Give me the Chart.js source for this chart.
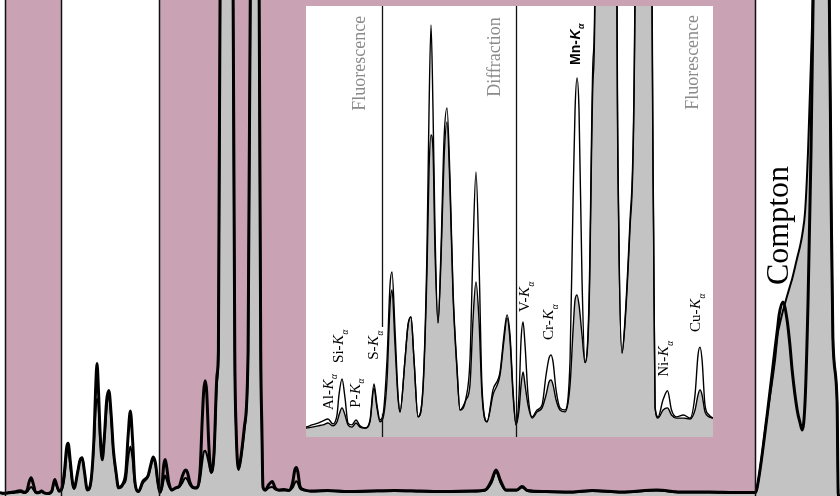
<!DOCTYPE html>
<html>
<head>
<meta charset="utf-8">
<script src="https://cdn.jsdelivr.net/npm/chart.js@4"></script>
<style>
  body { margin: 0; background: #fff; }
  #wrap { position: relative; width: 840px; height: 496px; overflow: hidden; }
  #main { position: absolute; left: 0; top: 0; }
  #inset { position: absolute; left: 306px; top: 6px; background: #fff; }
</style>
</head>
<body>
<div id="wrap">
  <canvas id="main" width="840" height="496"></canvas>
  <canvas id="inset" width="407" height="431"></canvas>
</div>
<script>
// Spectrum (energy in keV, intensity in counts)
const energy = [
  1.000, 1.087, 1.211, 1.317, 1.405, 1.493, 1.581, 1.652, 1.687, 1.740,
  1.793, 1.846, 1.916, 1.987, 2.057, 2.146, 2.234, 2.304, 2.357, 2.410,
  2.463, 2.534, 2.587, 2.622, 2.675, 2.728, 2.763, 2.851, 2.904, 2.957,
  3.010, 3.080, 3.169, 3.239, 3.275, 3.310, 3.345, 3.380, 3.433, 3.486,
  3.539, 3.592, 3.645, 3.698, 3.768, 3.821, 3.927, 3.997, 4.050, 4.103,
  4.156, 4.209, 4.297, 4.403, 4.527, 4.597, 4.650, 4.703, 4.756, 4.809,
  4.862, 4.898, 4.933, 4.968, 5.021, 5.092, 5.180, 5.268, 5.339, 5.392,
  5.426, 5.462, 5.515, 5.585, 5.673, 5.762, 5.815, 5.850, 5.885, 5.920,
  5.973, 6.026, 6.097, 6.167, 6.200, 6.240, 6.320, 6.400, 6.480, 6.550,
  6.590, 6.620, 6.679, 6.731, 6.820, 6.907, 6.960, 7.000, 7.060, 7.120,
  7.170, 7.208, 7.235, 7.261, 7.314, 7.402, 7.481, 7.551, 7.639, 7.763,
  7.878, 7.966, 8.019, 8.054, 8.090, 8.142, 8.213, 8.283, 8.400, 8.800,
  9.300, 9.800, 10.40, 11.00, 11.60, 12.20, 12.55, 12.70, 12.81, 12.92,
  13.05, 13.30, 13.43, 13.56, 14.00, 14.60, 15.10, 15.80, 16.64, 17.20,
  17.90, 18.50, 18.98, 19.02, 19.26, 19.45, 19.52, 19.55, 19.64, 19.74,
  19.81, 19.86, 19.98, 20.05, 20.10, 20.17, 20.24, 20.31, 20.36, 20.40,
  20.55, 20.70, 20.74, 20.79, 20.83, 20.93, 20.96, 21.00
];
// line-only spectrum (upper in the fluorescence/diffraction part)
const spectrumLine = [
  -15, -23, -16, -10, -3, 3, -13, 16, 81, 132,
  71, -10, -16, 0, -19, -26, 0, 116, 48, 0,
  16, 194, 435, 477, 290, 81, 26, 194, 306, 332,
  194, 10, 110, 548, 1000, 1274, 1000, 613, 313, 548,
  903, 1006, 774, 419, 171, 32, 71, 194, 548, 800,
  516, 106, -6, 97, 155, 274, 339, 274, 97, -16,
  81, 258, 316, 242, 81, 10, 32, 48, 145, 200,
  210, 187, 97, 39, 32, 194, 710, 1000, 1103, 1000,
  452, 185, 387, 1161, 1400, 5000, 18000, 30000, 18000, 5000,
  1400, 650, 216, 323, 645, 1400, 5000, 12000, 28000, 12000,
  5000, 1400, 645, 42, 10, 65, 94, 32, 10, 16,
  6, 81, 210, 235, 194, 48, 16, 6, 0, 5,
  -5, 0, 5, 0, -5, 0, 10, 100, 210, 100,
  10, 10, 45, 5, -5, -10, 5, -10, 10, -10,
  -10, -15, -15, 20, 740, 1410, 1650, 1760, 1890, 1710,
  1450, 1210, 810, 680, 610, 910, 1910, 3400, 4910, 6000,
  20000, 6000, 5200, 2910, 1540, 900, -50, -50
];
// filled spectrum
const spectrumFilled = [
  -20, -26, -23, -19, -16, -10, -19, -6, 16, 39,
  16, -16, -23, -10, -23, -26, -6, 103, 39, -6,
  6, 129, 371, 419, 242, 71, 26, 194, 306, 332,
  194, 10, 100, 484, 806, 919, 871, 548, 313, 516,
  839, 961, 742, 403, 161, 32, 65, 113, 323, 445,
  323, 81, -6, 81, 145, 258, 329, 258, 81, -16,
  32, 113, 155, 113, 48, 6, 26, 39, 81, 123,
  129, 113, 65, 32, 26, 113, 290, 387, 403, 371,
  274, 185, 355, 1097, 1350, 4800, 16000, 27000, 16000, 4600,
  1300, 620, 216, 310, 620, 1350, 4800, 11000, 25000, 11000,
  4700, 1300, 600, 42, 6, 32, 39, 16, 6, 6,
  3, 32, 81, 97, 81, 26, 10, 6, -5, 0,
  -10, -5, 0, -5, -10, -5, 5, 80, 190, 80,
  5, 5, 35, 0, -10, -15, 0, -15, 5, -15,
  -15, -20, -20, 20, 740, 1300, 1580, 1640, 1800, 1950,
  2050, 2120, 2330, 2450, 2560, 2800, 3410, 4310, 5200, 7000,
  20000, 7000, 5200, 2910, 1540, 900, -50, -50
];

// Energy regions
const regionStart = [1.12, 2.45, 4.79, 18.98];
const regionEnd = [2.45, 4.79, 18.98, 21.0];
const regionKind = ["Fluorescence", "Diffraction", "Fluorescence", "Scatter"];

// Inset annotations
const elementNames = ["Al", "Si", "P", "S", "V", "Cr", "Mn", "Ni", "Cu"];
const elementLabelE = [1.581, 1.758, 2.057, 2.375, 5.038, 5.462, 5.94, 7.49, 8.054];
const elementLabelV = [32, 184, 39, 194, 348, 258, 1145, 139, 284];
const regionLabelText = ["Fluorescence", "Diffraction", "Fluorescence"];
const regionLabelE = [2.146, 4.527, 8.019];
const regionLabelV = [997, 1042, 1000];

const PINK = "#c9a2b4";
const GRAY = "#c3c3c3";

const toPts = (vals) => energy.map((e, i) => ({ x: e, y: vals[i] }));

function drawRotated(ctx, px, py, parts, size, color, family, weight) {
  ctx.save();
  ctx.translate(px, py);
  ctx.rotate(-Math.PI / 2);
  ctx.fillStyle = color;
  ctx.textBaseline = "alphabetic";
  ctx.textAlign = "left";
  let cx = 0;
  parts.forEach((p) => {
    const s = p.sub ? size * 0.62 : size;
    ctx.font = `${p.italic ? "italic " : ""}${weight || "normal"} ${s}px ${family}`;
    ctx.fillText(p.t, cx, p.sub ? size * 0.3 : 0);
    cx += ctx.measureText(p.t).width + (p.sub ? 0 : 0.5);
  });
  ctx.restore();
}

const bandsPlugin = {
  id: "bands",
  beforeDatasetsDraw(chart, args, opts) {
    const { ctx, chartArea, scales: { x } } = chart;
    if (!opts.shade) return;
    ctx.save();
    regionKind.forEach((kind, i) => {
      if (kind !== "Fluorescence") return;
      const x0 = x.getPixelForValue(regionStart[i]);
      const x1 = x.getPixelForValue(regionEnd[i]);
      ctx.fillStyle = PINK;
      ctx.fillRect(x0, chartArea.top, x1 - x0, chartArea.bottom - chartArea.top);
    });
    ctx.restore();
  },
  afterDatasetsDraw(chart, args, opts) {
    const { ctx, chartArea, scales: { x, y } } = chart;
    ctx.save();
    ctx.strokeStyle = "#111";
    ctx.lineWidth = opts.lineWidth;
    opts.dividers.forEach((d) => {
      const px = Math.round(x.getPixelForValue(d.e)) + 0.5;
      // optional gap (label space) between values gap[0] and gap[1]
      const segs = d.gap
        ? [[chartArea.top, y.getPixelForValue(d.gap[1])], [y.getPixelForValue(d.gap[0]), chartArea.bottom]]
        : [[chartArea.top, chartArea.bottom]];
      segs.forEach(([a, b]) => {
        ctx.beginPath();
        ctx.moveTo(px, a);
        ctx.lineTo(px, b);
        ctx.stroke();
      });
    });
    ctx.restore();
  }
};

const notesPlugin = {
  id: "notes",
  afterDatasetsDraw(chart, args, opts) {
    const { ctx, scales: { x, y } } = chart;
    opts.items.forEach((n) => {
      drawRotated(ctx, x.getPixelForValue(n.e), y.getPixelForValue(n.v),
        n.parts, n.size, n.color, n.family, n.weight);
    });
  }
};

function spectrumDatasets(lineW, fillLineW) {
  return [
    {
      data: toPts(spectrumLine),
      borderColor: "#000",
      borderWidth: lineW,
      fill: false,
      pointRadius: 0,
      cubicInterpolationMode: "monotone"
    },
    {
      data: toPts(spectrumFilled),
      borderColor: "#000",
      borderWidth: fillLineW,
      backgroundColor: GRAY,
      fill: "start",
      pointRadius: 0,
      cubicInterpolationMode: "monotone"
    }
  ];
}

const baseOptions = (xmin, xmax, ymin, ymax) => ({
  responsive: false,
  animation: false,
  events: [],
  layout: { padding: 0 },
  scales: {
    x: { type: "linear", min: xmin, max: xmax, display: false },
    y: { type: "linear", min: ymin, max: ymax, display: false }
  }
});

// Main spectrum
const mainOpts = baseOptions(1.0, 21.0, -50, 4910);
mainOpts.plugins = {
  legend: { display: false },
  tooltip: { enabled: false },
  bands: {
    shade: true,
    lineWidth: 1.5,
    dividers: regionStart.map((e) => ({ e }))
  },
  notes: {
    items: [{
      e: 19.76, v: 2060, size: 32, color: "#000",
      family: '"Liberation Serif", serif',
      parts: [{ t: "Compton" }]
    }]
  }
};
new Chart(document.getElementById("main").getContext("2d"), {
  type: "line",
  data: { datasets: spectrumDatasets(3, 2) },
  options: mainOpts,
  plugins: [bandsPlugin, notesPlugin]
});

// Inset: low-energy part enlarged
const insetNotes = elementNames.map((el, i) => ({
  e: elementLabelE[i],
  v: elementLabelV[i],
  size: el === "Mn" ? 14 : 15,
  color: "#000",
  weight: el === "Mn" ? "bold" : "normal",
  family: el === "Mn" ? '"Liberation Sans", sans-serif' : '"Liberation Serif", serif',
  parts: [{ t: el + "-" }, { t: "K", italic: true }, { t: "\u03b1", sub: true, italic: true }]
})).concat(regionLabelText.map((t, i) => ({
  e: regionLabelE[i],
  v: regionLabelV[i],
  size: 18,
  color: "#8a8a8a",
  family: '"Liberation Serif", serif',
  parts: [{ t }]
})));

const insetOpts = baseOptions(1.105, 8.283, -55, 1335);
insetOpts.plugins = {
  legend: { display: false },
  tooltip: { enabled: false },
  bands: {
    shade: false,
    lineWidth: 1.3,
    dividers: [{ e: 2.44, gap: [20, 300] }, { e: 4.8 }]
  },
  notes: { items: insetNotes }
};
new Chart(document.getElementById("inset").getContext("2d"), {
  type: "line",
  data: { datasets: spectrumDatasets(1.4, 1.4) },
  options: insetOpts,
  plugins: [bandsPlugin, notesPlugin]
});
</script>
</body>
</html>
